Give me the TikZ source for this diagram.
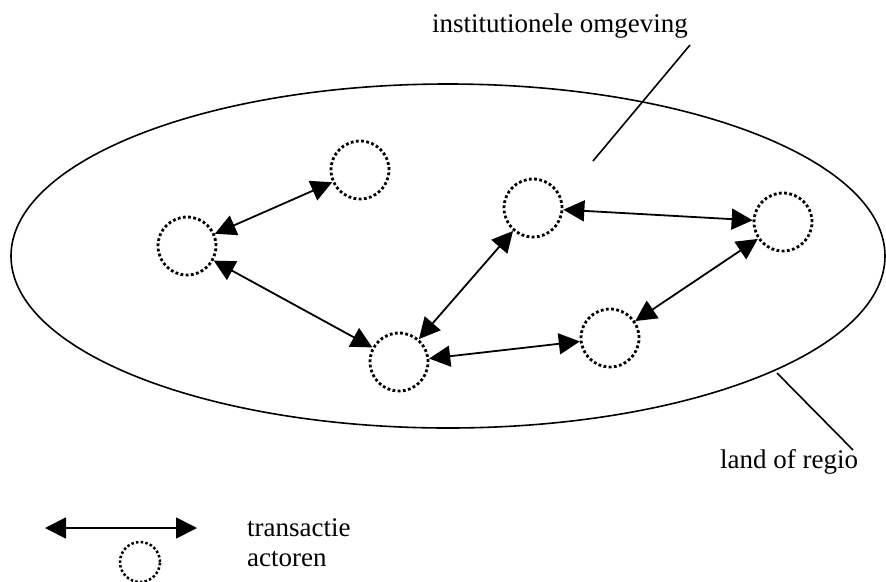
\documentclass[tikz,border=0pt]{standalone}
\usepackage{fontspec}
\setmainfont{Liberation Serif}
\usetikzlibrary{arrows.meta}
\begin{document}
\begin{tikzpicture}[x=1pt,y=-1pt,
  actor/.style={circle,draw,minimum size=58pt,inner sep=0pt,line width=2.8pt,dash pattern=on 2.8pt off 2.4pt},
  smallactor/.style={circle,draw,minimum size=40pt,inner sep=0pt,line width=2.5pt,dash pattern=on 2.5pt off 2.2pt},
  trans/.style={line width=1.8pt,{Triangle[length=21pt,width=21pt]}-{Triangle[length=21pt,width=21pt]}},
  lead/.style={line width=1.6pt},
  lbl/.style={font=\fontsize{27}{30}\selectfont,inner sep=0pt}]
\useasboundingbox (0,0) rectangle (886,581);
\draw[line width=1.6pt] (448,256) ellipse [x radius=437, y radius=172];
\node[actor] (A) at (360,170) {};
\node[actor] (B) at (187,246) {};
\node[actor] (C) at (399,362) {};
\node[actor] (D) at (533,208) {};
\node[actor] (E) at (610,338) {};
\node[actor] (F) at (783,222) {};
\draw[trans] (A) -- (B);
\draw[trans] (B) -- (C);
\draw[trans] (C) -- (D);
\draw[trans] (D) -- (F);
\draw[trans] (F) -- (E);
\draw[trans] (E) -- (C);
\node[lbl,anchor=base east] (inst) at (688,32) {institutionele omgeving};
\coordinate (i1) at (690,45);
\coordinate (i2) at (593,161);
\draw[lead] (i1) -- (i2);
\node[lbl,anchor=base west] (land) at (720,468) {land of regio};
\coordinate (l1) at (777,373);
\coordinate (l2) at (853,450);
\draw[lead] (l1) -- (l2);
\coordinate (t1) at (45,528);
\coordinate (t2) at (197,528);
\draw[trans] (t1) -- (t2);
\node[smallactor] (leg) at (140,562) {};
\node[lbl,anchor=base west] (tr) at (247,536) {transactie};
\node[lbl,anchor=base west] (ac) at (247,566) {actoren};
\end{tikzpicture}
\end{document}
